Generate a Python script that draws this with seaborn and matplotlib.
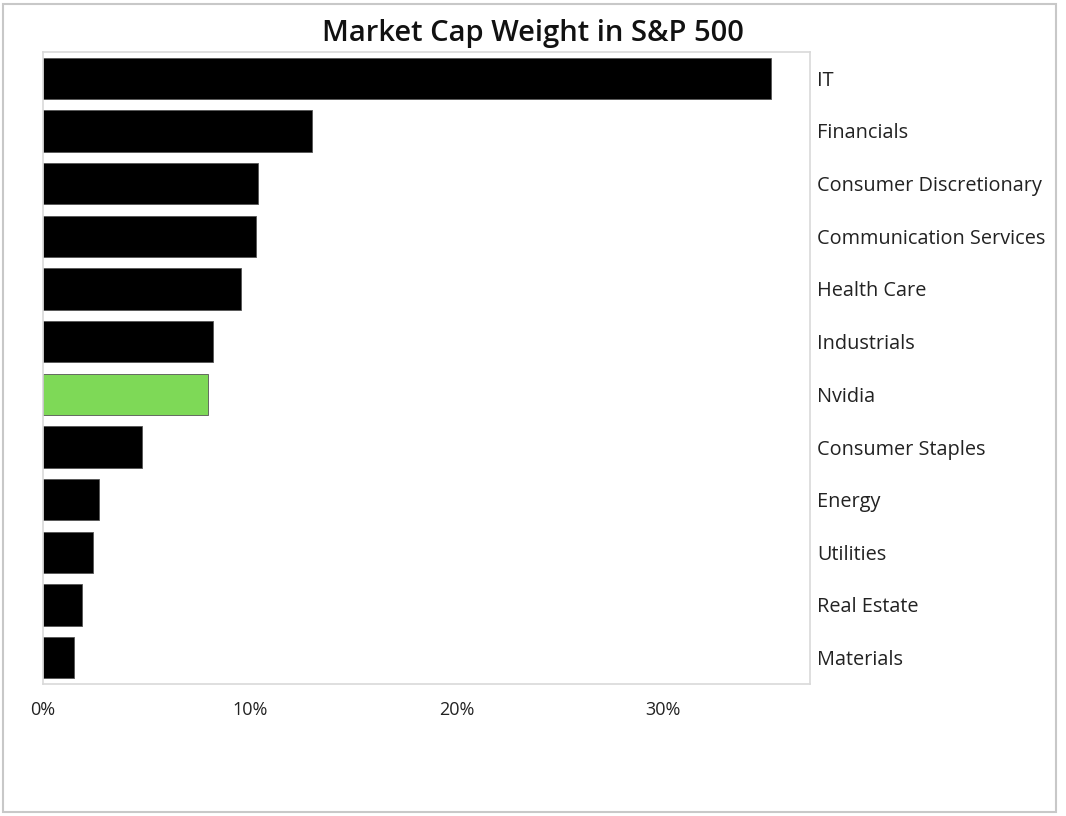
import matplotlib
matplotlib.use("Agg")
import matplotlib.pyplot as plt
import seaborn as sns
import pandas as pd
from matplotlib.patches import Rectangle
from matplotlib.ticker import PercentFormatter

# ==============================
# Data
# ==============================

SECTORS = [
    "IT", "Financials", "Consumer Discretionary", "Communication Services",
    "Health Care", "Industrials", "Nvidia", "Consumer Staples", "Energy",
    "Utilities", "Real Estate", "Materials",
]
WEIGHTS = [35.2, 13.0, 10.4, 10.3, 9.6, 8.2, 8.0, 4.8, 2.7, 2.4, 1.9, 1.5]
HIGHLIGHT = "Nvidia"

BAR_COLOR = "#000000"
HIGHLIGHT_COLOR = "#7ed957"
FRAME_COLOR = "#d9d9d9"

# ==============================
# Plot
# ==============================

sns.set_style("white")
plt.rcParams["font.family"] = ["Open Sans", "DejaVu Sans"]

df = pd.DataFrame({"sector": SECTORS, "weight": WEIGHTS})
palette = {s: (HIGHLIGHT_COLOR if s == HIGHLIGHT else BAR_COLOR) for s in SECTORS}

fig = plt.figure(figsize=(10.66, 8.16), dpi=100)
ax = fig.add_axes([43 / 1066, 1 - 684 / 816, (810 - 43) / 1066, (684 - 52) / 816])

sns.barplot(
    data=df, x="weight", y="sector", hue="sector", palette=palette,
    order=SECTORS, width=0.78, legend=False, ax=ax, saturation=1,
    edgecolor="#555555", linewidth=0.6,
)

ax.set_xlim(0, 37.1)
ax.set_ylim(len(SECTORS) - 0.5, -0.5)
ax.set_xticks([0, 10, 20, 30])
ax.xaxis.set_major_formatter(PercentFormatter(decimals=0))
ax.set_xlabel("")
ax.set_ylabel("")

ax.yaxis.tick_right()
ax.tick_params(axis="both", length=0, colors="#222222")
ax.tick_params(axis="y", pad=5, labelsize=14.3)
ax.tick_params(axis="x", pad=12, labelsize=13)
for label in ax.get_yticklabels():
    label.set_horizontalalignment("left")

for spine in ax.spines.values():
    spine.set_visible(True)
    spine.set_color(FRAME_COLOR)
    spine.set_linewidth(1.2)

fig.text(0.5, 1 - 33 / 816, "Market Cap Weight in S&P 500", ha="center",
         va="center", fontsize=21, fontweight="semibold", color="#111111")

# outer border around the whole picture
fig.patches.append(Rectangle(
    (3 / 1066, 4 / 816), 1053 / 1066, 808 / 816, transform=fig.transFigure,
    fill=False, edgecolor="#c8c8c8", linewidth=1.5,
))

fig.savefig("out.png", dpi=100, facecolor="white")
plt.close(fig)
